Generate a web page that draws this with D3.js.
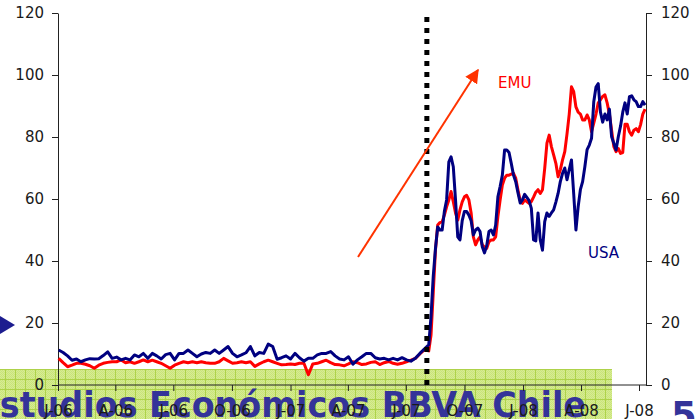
<!DOCTYPE html>
<html>
<head>
<meta charset="utf-8">
<script src="https://cdn.jsdelivr.net/npm/d3@7"></script>
<style>
  body { margin: 0; background: #fff; }
  svg { display: block; }
  text { font-family: "DejaVu Sans", Verdana, sans-serif; }
</style>
</head>
<body>
<svg id="chart" width="699" height="419"></svg>
<script>
// Spread series (weekly before the August 2007 break, twice-weekly after it)
const preStart = new Date(2006, 0, 2);   // weekly observations
const postStart = new Date(2007, 7, 6);  // observations every 3.5 days

const usaPre = [
  11.3, 10.5, 9.4, 8.0, 8.4, 7.5, 8.1, 8.5, 8.4, 8.5, 9.5, 10.7, 8.6, 9.0, 8.1,
  8.6, 8.1, 9.7, 9.1, 10.2, 8.6, 10.2, 9.4, 8.4, 9.8, 10.2, 8.1, 10.2, 10.2, 11.3,
  10.2, 9.1, 10.0, 10.5, 10.2, 11.3, 10.2, 11.3, 12.4, 10.2, 9.1, 9.7,
  10.4, 12.4, 9.4, 10.5, 10.2, 13.2, 12.4, 8.3, 8.8, 9.4, 8.4, 10.2, 8.8, 7.7,
  8.6, 8.6, 9.7, 10.2, 10.2, 10.8, 9.4, 8.4, 8.1, 9.1, 6.7, 8.1, 9.1, 10.2, 10.2,
  8.8, 8.4, 8.6, 8.1, 8.6, 8.1, 8.8, 8.1, 7.7, 8.6, 10.2, 11.6
];
const emuPre = [
  8.6, 7.2, 5.9, 6.4, 7.0, 7.0, 6.7, 6.2, 5.4, 6.4, 7.0, 7.3, 7.5, 7.5, 8.1,
  7.2, 7.5, 7.0, 7.5, 8.1, 7.5, 8.0, 7.5, 7.0, 6.2, 5.4, 6.4, 7.0, 7.5, 7.2,
  7.5, 7.2, 7.5, 7.2, 7.0, 7.0, 7.5, 8.6, 7.8, 7.0, 7.2, 7.5,
  7.2, 7.5, 6.0, 6.8, 7.5, 8.0, 7.5, 7.0, 6.5, 6.6, 6.8, 6.6, 7.0, 7.0,
  3.3, 6.8, 7.0, 7.5, 8.0, 7.2, 6.6, 6.5, 6.2, 6.8, 7.5, 7.2, 6.6, 6.8, 7.3,
  7.5, 6.6, 7.2, 7.6, 7.0, 6.7, 7.0, 7.5, 8.0, 8.6, 10.0, 11.3
];
const usaPost = [
  13, 22, 35, 44, 51, 50, 50, 56, 59.7, 72, 73.6, 70.4, 59.7, 47.8, 46.8,
  53, 56, 56, 54.8, 53, 48.4, 50, 50.6, 49.5, 44.6, 42.6, 45, 49.5, 50, 48.4,
  51.6, 60.7, 64, 67.7, 75.8, 75.8, 75, 71.5, 67.7, 65.6, 62, 58.7, 59.7, 61.5, 60.5,
  59.5, 57, 46.8, 46.5, 55.5, 46.8, 43.5, 52.7, 55.5, 54.4, 55.5, 56.5, 59, 61.8, 65.6,
  68.3, 70, 66.2, 69.5, 72.6, 61.7, 50, 57.5, 63, 65.6, 70.4, 75.9, 77.4, 79.6, 91.4,
  96.1, 97.2, 88, 84.8, 87.4, 85.5, 89, 80.1, 78, 75.8, 80.1, 83.5, 88, 91, 87.4,
  93, 93.3, 92, 91.4, 89.8, 89.8, 91.4, 90.3
];
const emuPost = [
  11, 16, 29.6, 43.5, 51.6, 52.4, 52.7, 54.8, 57.5, 59.7, 62.4, 59.1, 55.5, 53.2, 56.5,
  59.1, 60.7, 61.2, 59.7, 55.5, 47.8, 45.2, 46.8, 47.8, 45.2, 44.5, 44.1, 46.2, 46.8, 46.8,
  47.8, 54.3, 59.7, 64.5, 66.7, 67.7, 67.7, 68, 68.3, 66.7, 62.9, 59.5, 58.6, 59.7, 59.2,
  58.6, 59.2, 60.6, 62.2, 63, 61.8, 63, 69.9, 78, 80.6, 76.9, 74.2, 71.5, 67.2, 69.4,
  72.6, 75.3, 81, 87.4, 96.2, 94.6, 89.7, 88, 87.4, 85.5, 85.5, 87.1, 85.5, 81.7, 84.5,
  87.4, 91, 92, 93.1, 93.6, 91, 87.4, 82.2, 76.9, 75.3, 76.3, 74.7, 75, 84.1, 84.1,
  81.7, 80.6, 82.2, 82.7, 81.7, 84, 87.4, 89
];

const xTickLabels = ["J-06", "A-06", "J-06", "O-06", "J-07", "A-07", "J-07", "O-07", "J-08", "A-08", "J-08"];
const yTicks = [0, 20, 40, 60, 80, 100, 120];
const breakDate = new Date(2007, 7, 3);
const seriesNames = ["EMU", "USA"];

// ---- build dated series ----
const preDates = usaPre.map((_, i) => d3.timeDay.offset(preStart, i * 7));
const postDates = usaPost.map((_, j) => d3.timeHour.offset(postStart, j * 84));
const usa = preDates.map((d, i) => ({ d, v: usaPre[i] }))
  .concat(postDates.map((d, j) => ({ d, v: usaPost[j] })));
const emu = preDates.map((d, i) => ({ d, v: emuPre[i] }))
  .concat(postDates.map((d, j) => ({ d, v: emuPost[j] })));

const svg = d3.select("#chart");

// ---- slide template: green ribbon, title, page number, bullet ----
const defs = svg.append("defs");
const pat = defs.append("pattern").attr("id", "ribbon")
  .attr("patternUnits", "userSpaceOnUse").attr("width", 10).attr("height", 10)
  .attr("x", 5).attr("y", 369);
pat.append("rect").attr("width", 10).attr("height", 10).attr("fill", "#d6eb93");
const dots = defs.append("pattern").attr("id", "grain")
  .attr("patternUnits", "userSpaceOnUse").attr("width", 2).attr("height", 2);
dots.append("rect").attr("width", 1).attr("height", 1).attr("fill", "#c9e47a");
dots.append("rect").attr("x", 1).attr("y", 1).attr("width", 1).attr("height", 1).attr("fill", "#c9e47a");
pat.append("rect").attr("width", 10).attr("height", 10).attr("fill", "url(#grain)");
pat.append("rect").attr("x", 0).attr("y", 0).attr("width", 1).attr("height", 10).attr("fill", "#aed24a");
pat.append("rect").attr("x", 0).attr("y", 0).attr("width", 10).attr("height", 1).attr("fill", "#aed24a");

svg.append("rect").attr("x", 0).attr("y", 369).attr("width", 612).attr("height", 50)
  .attr("fill", "url(#ribbon)");

svg.append("text").attr("x", -23).attr("y", 417)
  .attr("font-size", 36).attr("font-weight", "bold").attr("fill", "#343399")
  .attr("textLength", 609).attr("lengthAdjust", "spacingAndGlyphs")
  .text("Estudios Económicos BBVA Chile");

svg.append("text").attr("x", 671).attr("y", 428)
  .attr("font-size", 37).attr("font-weight", "bold").attr("fill", "#343399").text("5");

svg.append("path").attr("d", "M0,316 L15,325 L0,334 Z").attr("fill", "#1c1c8f");

// ---- scales ----
const x = d3.scaleTime()
  .domain([new Date(2006, 0, 1), new Date(2008, 6, 1)])
  .range([58, 639]);
const y = d3.scaleLinear().domain([0, 120]).range([385, 13]);
const xRight = 646;

// ---- axes ----
const axisColor = "#222";
const tickFont = 15;

const gL = svg.append("g").attr("transform", "translate(58,0)")
  .call(d3.axisLeft(y).tickValues(yTicks).tickSize(6).tickSizeOuter(0).tickPadding(8));
const gR = svg.append("g").attr("transform", `translate(${xRight},0)`)
  .call(d3.axisRight(y).tickValues(yTicks).tickSize(6).tickSizeOuter(0).tickPadding(9));

const quarterDates = d3.timeMonth.every(3).range(new Date(2006, 0, 1), new Date(2008, 7, 1));
const gB = svg.append("g").attr("transform", "translate(0,385)")
  .call(d3.axisBottom(x).tickValues(quarterDates)
    .tickFormat((d, i) => xTickLabels[i]).tickSize(6).tickSizeOuter(0).tickPadding(14));
gB.select(".domain").remove();
gB.append("line").attr("x1", 58).attr("x2", xRight).attr("y1", 0).attr("y2", 0)
  .attr("stroke", axisColor);

[gL, gR, gB].forEach(g => {
  g.selectAll(".domain, line").attr("stroke", axisColor);
  g.selectAll("text").attr("font-size", tickFont).attr("fill", "#1a1a1a")
    .attr("font-family", "'DejaVu Sans', Verdana, sans-serif");
});

// ---- series ----
const line = d3.line().x(p => x(p.d)).y(p => y(p.v));
svg.append("path").datum(emu).attr("d", line)
  .attr("fill", "none").attr("stroke", "#ff0000").attr("stroke-width", 3)
  .attr("stroke-linejoin", "round");
svg.append("path").datum(usa).attr("d", line)
  .attr("fill", "none").attr("stroke", "#000080").attr("stroke-width", 3)
  .attr("stroke-linejoin", "round");

// ---- August 2007 break marker ----
svg.append("line")
  .attr("x1", x(breakDate)).attr("x2", x(breakDate))
  .attr("y1", y(0)).attr("y2", y(120))
  .attr("stroke", "#000").attr("stroke-width", 5).attr("stroke-dasharray", "5,6");

// ---- trend arrow ----
defs.append("marker").attr("id", "head")
  .attr("viewBox", "0 0 10 10").attr("refX", 9).attr("refY", 5)
  .attr("markerWidth", 7).attr("markerHeight", 7).attr("markerUnits", "strokeWidth")
  .attr("orient", "auto")
  .append("path").attr("d", "M0,0 L10,5 L0,10 Z").attr("fill", "#ff3300");
svg.append("line").attr("x1", 358).attr("y1", 257).attr("x2", 478).attr("y2", 70)
  .attr("stroke", "#ff3300").attr("stroke-width", 2).attr("marker-end", "url(#head)");

// ---- series labels ----
svg.append("text").attr("x", 498).attr("y", 88).attr("font-size", 15)
  .attr("fill", "#ff0000").text(seriesNames[0]);
svg.append("text").attr("x", 588).attr("y", 258).attr("font-size", 15)
  .attr("fill", "#000080").text(seriesNames[1]);
</script>
</body>
</html>
